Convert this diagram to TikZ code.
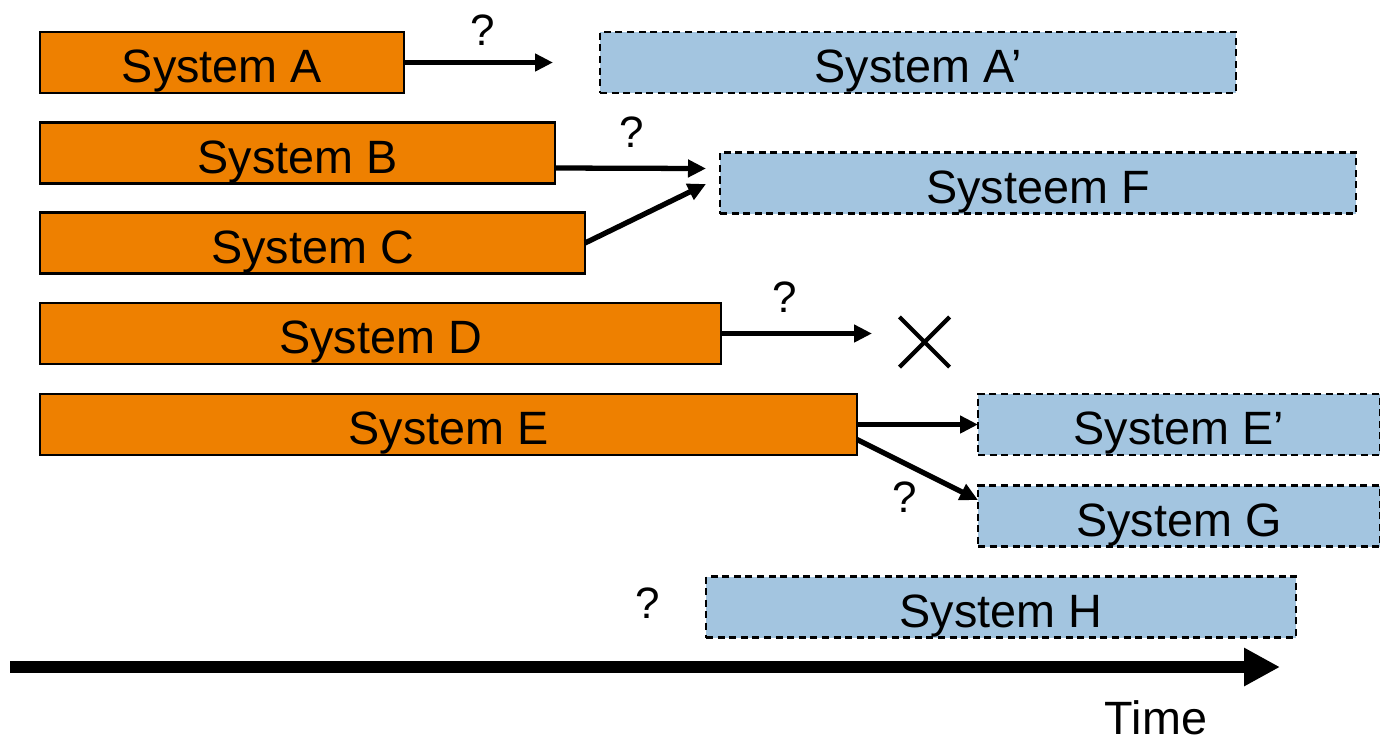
\documentclass[tikz,border=0pt]{standalone}
\usepackage{fontspec}
\setmainfont{Liberation Sans}
\usepackage{tikz}
\usetikzlibrary{calc,arrows.meta,shapes.misc}
\definecolor{sysorange}{RGB}{238,128,0}
\definecolor{sysblue}{RGB}{163,197,224}
\tikzset{
  old/.style={draw, fill=sysorange, line width=0.6pt, minimum height=0.61cm,
    inner sep=0pt, outer sep=0pt, text height=0.40cm, text depth=0cm,
    font=\fontsize{13.3}{16}\selectfont},
  new/.style={old, fill=sysblue, dash pattern=on 2pt off 1.3pt},
  link/.style={-{Triangle[length=0.18cm,width=0.17cm]}, line width=1.5pt},
  ask/.style={font=\fontsize{12.5}{15}\selectfont, inner sep=0pt}
}

\begin{document}
\begin{tikzpicture}
                \useasboundingbox (0,0) rectangle (13.8,-7.41);
                % current systems
                \node[old, minimum width=3.64cm] (A) at (2.22,-0.625)  {System A};
                \node[old, minimum width=5.15cm] (B) at (2.975,-1.53)  {System B};
                \node[old, minimum width=5.45cm] (C) at (3.125,-2.43)  {System C};
                \node[old, minimum width=6.81cm] (D) at (3.805,-3.335) {System D};
                \node[old, minimum width=8.17cm] (E) at (4.485,-4.245) {System E};
                % future systems
                \node[new, minimum width=6.36cm] (A2) at (9.18,-0.625) {System A’};
                \node[new, minimum width=6.36cm] (F)  at (10.38,-1.83) {Systeem F};
                \node[new, minimum width=4.02cm] (E2) at (11.79,-4.245) {System E’};
                \node[new, minimum width=4.02cm] (G)  at (11.79,-5.16) {System G};
                \node[new, minimum width=5.90cm] (H)  at (10.01,-6.07) {System H};
                \node[draw, cross out, line width=1.2pt, minimum size=0.46cm, inner sep=0pt] (stop) at (9.245,-3.42) {};
                % arrow ends
                \coordinate (aEnd) at (5.53,-0.625);
                \coordinate (fIn1) at (7.06,-1.685);
                \coordinate (fIn2) at (7.06,-1.84);
                \coordinate (dEnd) at (8.72,-3.335);
                \coordinate (gIn)  at (9.78,-5.0);
                \draw[link] (A.east) to (aEnd);
                \draw[link] ($(B.east)+(0,-0.15)$) to (fIn1);
                \draw[link] (C.east) to (fIn2);
                \draw[link] (D.east) to (dEnd);
                \draw[link] (E.east) to (E2.west);
                \draw[link] ($(E.east)+(0,-0.15)$) to (gIn);
                % question marks
                \node[ask] (q1) at (4.83,-0.30) {?};
                \node[ask] (q2) at (6.32,-1.32) {?};
                \node[ask] (q3) at (7.85,-2.97) {?};
                \node[ask] (q4) at (9.05,-4.97) {?};
                \node[ask] (q5) at (6.48,-6.03) {?};
                % time axis
                \coordinate (t0) at (0.10,-6.67);
                \coordinate (t1) at (12.80,-6.67);
                \draw[line width=3.4pt, -{Triangle[length=0.36cm,width=0.36cm]}] (t0) to (t1);
                \node[font=\fontsize{13.3}{16}\selectfont] (time) at (11.56,-7.18) {Time};
              \end{tikzpicture}
\end{document}
